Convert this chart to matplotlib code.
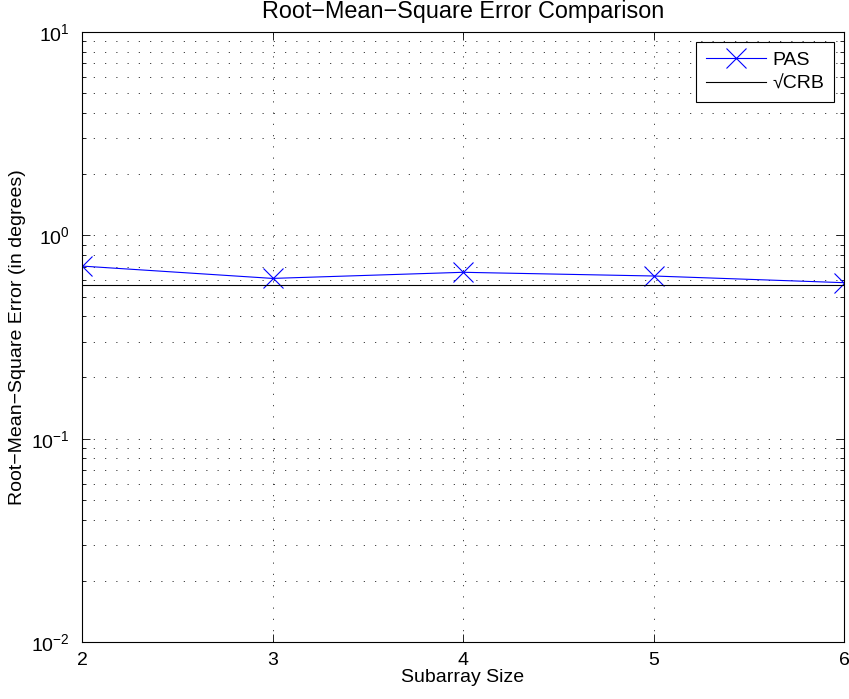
import matplotlib.pyplot as plt
from matplotlib.ticker import LogLocator, NullFormatter

subarray_size = [2, 3, 4, 5, 6]
rmse_pas = [0.706, 0.614, 0.658, 0.631, 0.585]
sqrt_crb = [0.569, 0.569, 0.569, 0.569, 0.569]

plt.rcParams["font.family"] = ["Liberation Sans", "DejaVu Sans"]
plt.rcParams["font.size"] = 14

fig = plt.figure(figsize=(8.49, 6.99), dpi=100)
ax = fig.add_axes([82 / 849, 57 / 699, 762 / 849, 610 / 699])

ax.semilogy(subarray_size, rmse_pas, color="blue", lw=0.8, marker="x",
            markersize=14.5, markeredgewidth=0.8, label="PAS")
ax.semilogy(subarray_size, sqrt_crb, color="black", lw=0.8, label="\u221aCRB")

ax.set_xlim(2, 6)
ax.set_ylim(1e-2, 1e1)
ax.set_xticks(subarray_size)
ax.yaxis.set_major_locator(LogLocator(base=10, numticks=10))
ax.yaxis.set_minor_locator(LogLocator(base=10, subs=range(2, 10), numticks=10))
ax.yaxis.set_minor_formatter(NullFormatter())

# sparse dotted grid
dots = (0, (1.5, 12))
ax.grid(True, which="major", ls=dots, color="0.15", lw=0.6)
ax.grid(True, which="minor", axis="y", ls=dots, color="0.15", lw=0.6)
ax.tick_params(which="both", direction="in", top=True, right=True, width=0.6)
ax.tick_params(which="major", length=6)
ax.tick_params(which="minor", length=3)
ax.tick_params(axis="x", pad=7)
ax.tick_params(axis="y", pad=9)
for s in ax.spines.values():
    s.set_linewidth(0.8)

ax.set_xlabel("Subarray Size", labelpad=0)
ax.set_ylabel("Root\u2212Mean\u2212Square Error (in degrees)")
ax.yaxis.set_label_coords(-0.074, 0.5)
ax.set_title("Root\u2212Mean\u2212Square Error Comparison", pad=10)

leg = ax.legend(loc="upper right", fancybox=False, edgecolor="black",
                framealpha=1, borderaxespad=0.5, borderpad=0.5,
                handlelength=3.1, handletextpad=0.35, labelspacing=0.3)
leg.get_frame().set_linewidth(0.8)

fig.savefig("out.png", dpi=100)
